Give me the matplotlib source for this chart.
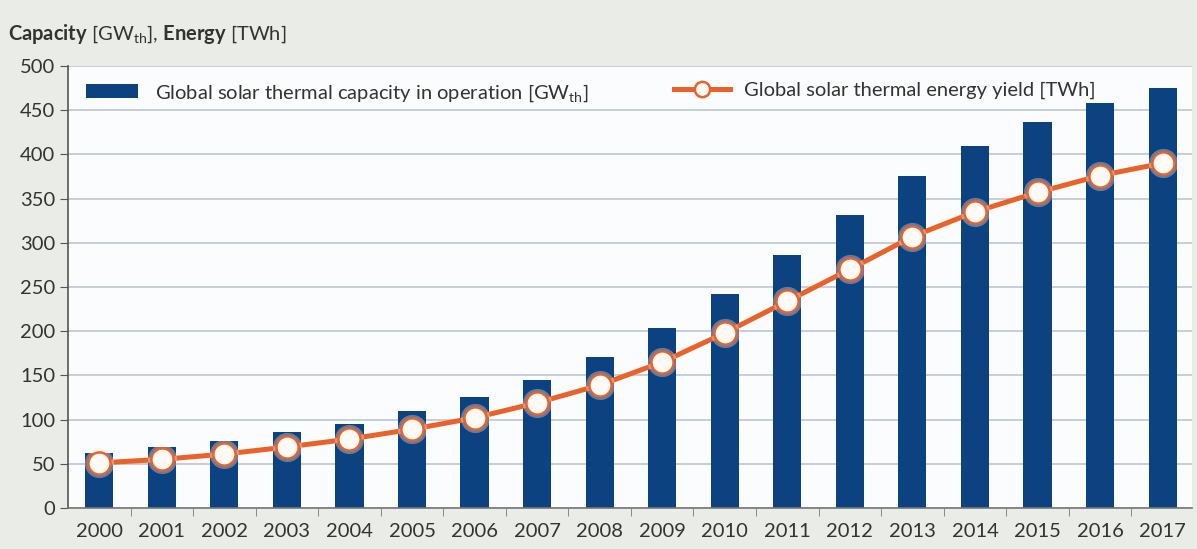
import matplotlib.pyplot as plt
import numpy as np
from matplotlib.patches import Patch
from matplotlib.lines import Line2D

plt.rcParams['font.family'] = ['Lato', 'DejaVu Sans']
plt.rcParams['mathtext.fontset'] = 'custom'
plt.rcParams['mathtext.rm'] = 'Lato'
plt.rcParams['mathtext.bf'] = 'Lato:bold'

years = ['2000', '2001', '2002', '2003', '2004', '2005', '2006', '2007', '2008',
         '2009', '2010', '2011', '2012', '2013', '2014', '2015', '2016', '2017']
capacity = [62, 69, 76, 86, 95, 110, 126, 145, 171, 204, 242, 286, 331, 376,
            410, 437, 458, 475]
energy = [51, 55, 61, 69, 78, 89, 102, 119, 139, 165, 198, 234, 270, 307,
          335, 357, 376, 390]
yticks = [0, 50, 100, 150, 200, 250, 300, 350, 400, 450, 500]

bg = '#e9ece7'
blue = '#0b427f'
orange = '#e8622a'
grid = '#b9c1cb'
txt = '#333333'
fs = 14.5

fig = plt.figure(figsize=(11.97, 5.49), dpi=100, facecolor=bg)
ax = fig.add_axes([68 / 1197, 1 - 508 / 549, 1124 / 1197, 442 / 549])
ax.set_facecolor('#fbfcfd')

x = np.arange(len(years))
ax.bar(x, capacity, width=0.45, color=blue, zorder=2)
ax.plot(x, energy, color=orange, lw=3.6, zorder=3, solid_capstyle='round')
# soft glow around the markers
ax.plot(x, energy, 'o', ms=21, color='#fff0e8', alpha=0.35, zorder=4, mec='none')
ax.plot(x, energy, 'o', ms=16, mfc='#fffaf5', mec=orange, mew=1.8, zorder=5)

ax.set_xlim(-0.5, 17.47)
ax.set_ylim(0, 500)
ax.set_yticks(yticks)
ax.yaxis.grid(True, color=grid, lw=1.1, zorder=0)
ax.set_axisbelow(True)

ax.set_xticks(x)
ax.set_xticklabels(years)
ax.set_xticks(np.arange(0.5, 17, 1), minor=True)
ax.tick_params(axis='x', which='major', length=0, pad=11, labelsize=fs, labelcolor=txt)
ax.tick_params(axis='x', which='minor', length=6, color='#777777', direction='out')
ax.tick_params(axis='y', length=6, color='#555555', labelsize=fs, labelcolor=txt, pad=3)

for s in ['top', 'right']:
    ax.spines[s].set_visible(False)
ax.spines['left'].set_color('#555555')
ax.spines['bottom'].set_color('#777777')
ax.spines['left'].set_linewidth(1.2)
ax.spines['bottom'].set_linewidth(1.2)

leg1 = ax.legend(handles=[Patch(facecolor=blue, label='Global solar thermal capacity in operation [GW$_{\\mathrm{th}}$]')],
                 loc='upper left', bbox_to_anchor=(0.0, 1.005), frameon=False,
                 fontsize=fs, handlelength=2.6, handleheight=0.7, handletextpad=0.8,
                 labelcolor=txt)
ax.add_artist(leg1)
ax.legend(handles=[Line2D([0], [0], color=orange, lw=3.6, marker='o', ms=11,
                          mfc='#fffaf5', mec=orange, mew=1.8,
                          label='Global solar thermal energy yield [TWh]')],
          loc='upper left', bbox_to_anchor=(0.523, 1.005), frameon=False,
          fontsize=fs, handlelength=2.8, handletextpad=0.7, labelcolor=txt)

fig.text(8 / 1197, 1 - 34 / 549, r'$\mathbf{Capacity}$ [GW$_{\mathrm{th}}$], $\mathbf{Energy}$ [TWh]',
         fontsize=fs, color=txt, va='center', ha='left')

fig.savefig('out.png', dpi=100, facecolor=bg)
